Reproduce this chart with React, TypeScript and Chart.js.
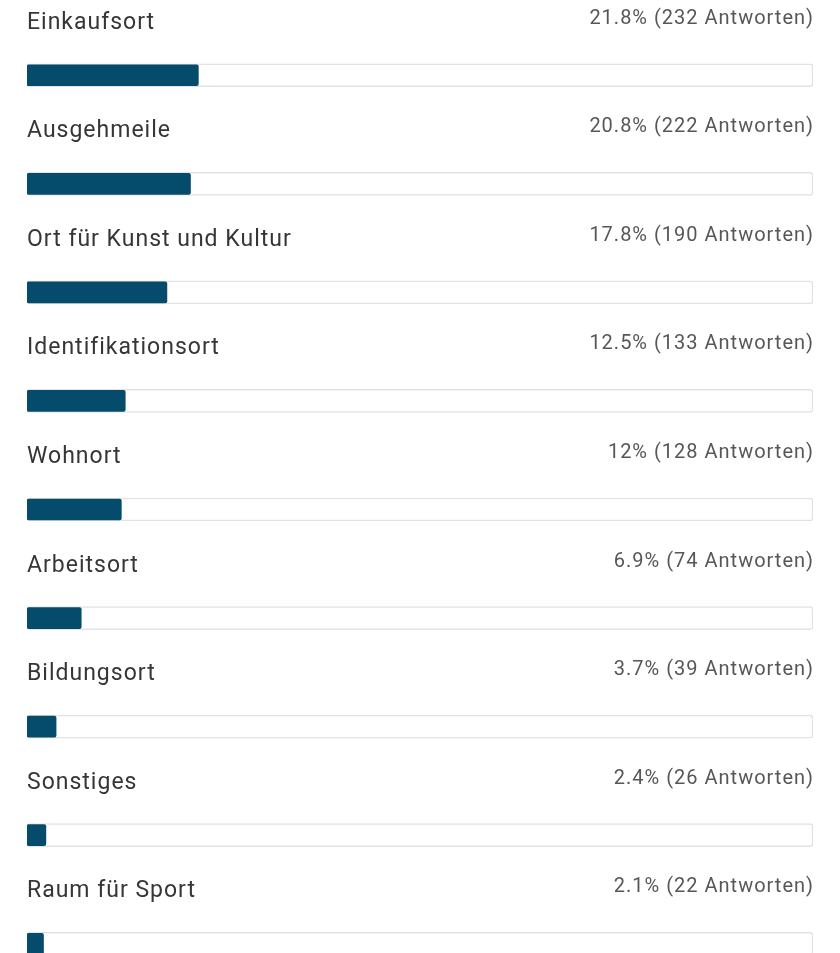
import React, { useEffect, useRef } from "react";
import { Chart, registerables } from "chart.js";

Chart.register(...registerables);

const categories = [
  "Einkaufsort",
  "Ausgehmeile",
  "Ort für Kunst und Kultur",
  "Identifikationsort",
  "Wohnort",
  "Arbeitsort",
  "Bildungsort",
  "Sonstiges",
  "Raum für Sport",
];
const percents = [21.8, 20.8, 17.8, 12.5, 12, 6.9, 3.7, 2.4, 2.1];
const counts = [232, 222, 190, 133, 128, 74, 39, 26, 22];
const trackMax = 100;
const answerWord = "Antworten";

const labelPlugin = {
  id: "rowLabels",
  afterDatasetsDraw(chart: any) {
    const { ctx, chartArea, scales } = chart;
    const y = scales.y;
    ctx.save();
    categories.forEach((cat, i) => {
      const cy = y.getPixelForValue(i);
      ctx.textBaseline = "alphabetic";
      ctx.textAlign = "left";
      ctx.font = "23px Roboto";
      (ctx as any).letterSpacing = "1px";
      ctx.fillStyle = "#363636";
      ctx.fillText(cat, chartArea.left, cy - 46.5);
      ctx.textAlign = "right";
      ctx.font = "20px Roboto";
      (ctx as any).letterSpacing = "1px";
      ctx.fillStyle = "#575757";
      ctx.fillText(`${percents[i]}% (${counts[i]} ${answerWord})`, chartArea.right + 1, cy - 51.5);
    });
    ctx.restore();
  },
};

export default function App() {
  const ref = useRef<HTMLCanvasElement>(null);
  useEffect(() => {
    if (!ref.current) return;
    const chart = new Chart(ref.current, {
      type: "bar",
      data: {
        labels: categories,
        datasets: [
          {
            data: percents,
            backgroundColor: "#054b6b",
            barThickness: 21,
            borderRadius: 2,
            borderSkipped: false,
            grouped: false,
            order: 0,
          } as any,
          {
            data: categories.map(() => trackMax),
            backgroundColor: "#ffffff",
            borderColor: "#e2e2e2",
            borderWidth: 1.5,
            barThickness: 23,
            borderRadius: 3,
            borderSkipped: false,
            grouped: false,
            order: 1,
          } as any,
        ],
      },
      options: {
        indexAxis: "y",
        responsive: false,
        animation: false,
        events: [],
        layout: { padding: { top: 21, bottom: 2, left: 27, right: 27 } },
        scales: {
          x: { display: false, min: 0, max: trackMax },
          y: { display: false },
        },
        plugins: { legend: { display: false }, tooltip: { enabled: false } },
      },
      plugins: [labelPlugin],
    });
    return () => chart.destroy();
  }, []);
  return (
    <div
      style={{
        position: "fixed",
        left: 0,
        top: 0,
        width: 840,
        height: 953,
        overflow: "hidden",
        background: "#ffffff",
      }}
    >
      <canvas ref={ref} width={840} height={1000} />
    </div>
  );
}
